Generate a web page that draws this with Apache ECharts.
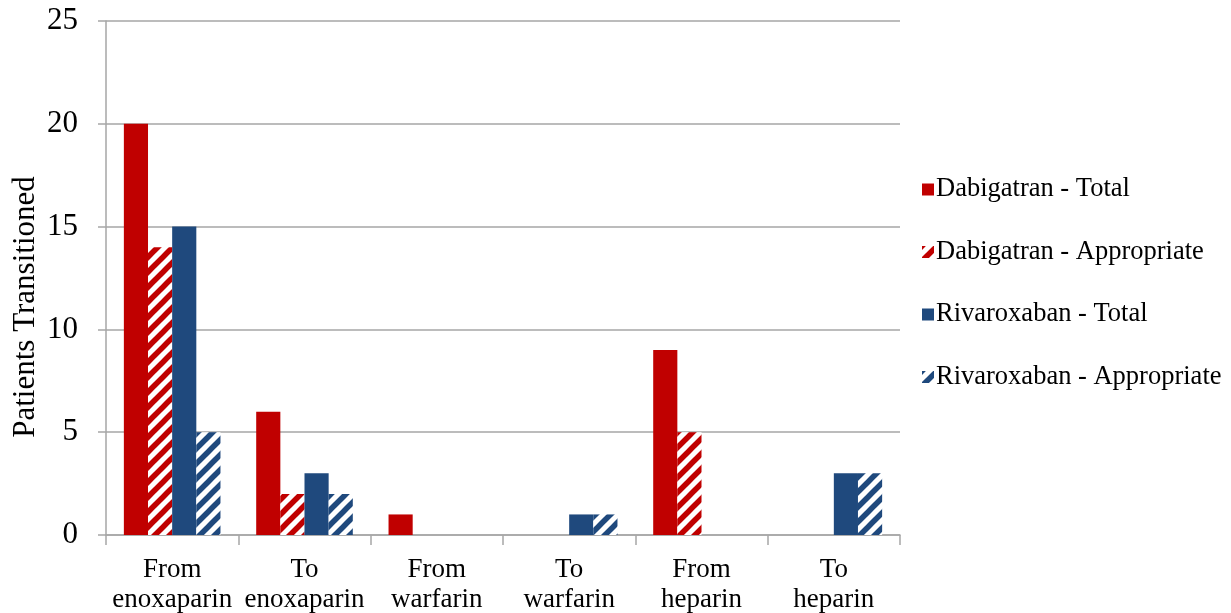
<!DOCTYPE html>
<html>
<head>
<meta charset="utf-8">
<script src="https://cdn.jsdelivr.net/npm/echarts@6/dist/echarts.min.js"></script>
<style>
  html, body { margin: 0; padding: 0; background: #fff; }
  #chart { width: 1231px; height: 613px; }
</style>
</head>
<body>
<div id="chart"></div>
<script>
// Transition categories (two-line labels)
const categories = [
  'From\nenoxaparin', 'To\nenoxaparin', 'From\nwarfarin',
  'To\nwarfarin', 'From\nheparin', 'To\nheparin'
];
const seriesNames = [
  'Dabigatran - Total', 'Dabigatran - Appropriate',
  'Rivaroxaban - Total', 'Rivaroxaban - Appropriate'
];
const dabigatranTotal = [20, 6, 1, 0, 9, 0];
const dabigatranAppropriate = [14, 2, 0, 0, 5, 0];
const rivaroxabanTotal = [15, 3, 0, 1, 0, 3];
const rivaroxabanAppropriate = [5, 2, 0, 1, 0, 3];
const yTicks = [0, 5, 10, 15, 20, 25];
const yTitle = 'Patients Transitioned';

const RED = '#C00000';
const BLUE = '#1F497D';
const FONT = '"Liberation Serif", "Times New Roman", serif';

// Diagonal "/" stripes on white for the "Appropriate" series
function stripePattern(color) {
  const s = 15;
  const c = document.createElement('canvas');
  c.width = s; c.height = s;
  const ctx = c.getContext('2d');
  ctx.fillStyle = '#fff';
  ctx.fillRect(0, 0, s, s);
  ctx.strokeStyle = color;
  ctx.lineWidth = 5.5;
  ctx.lineCap = 'square';
  for (const off of [-s, 0, s]) {
    ctx.beginPath();
    ctx.moveTo(off, s);
    ctx.lineTo(off + s, 0);
    ctx.stroke();
  }
  return { image: c, repeat: 'repeat' };
}

const chart = echarts.init(document.getElementById('chart'), null, { renderer: 'canvas' });

const values = [dabigatranTotal, dabigatranAppropriate, rivaroxabanTotal, rivaroxabanAppropriate];
const fills = [RED, stripePattern(RED), BLUE, stripePattern(BLUE)];

chart.setOption({
  animation: false,
  backgroundColor: '#fff',
  textStyle: { fontFamily: FONT },
  grid: {
    left: 106, right: 331, top: 21, bottom: 78,
    containLabel: false, outerBoundsMode: 'none'
  },
  legend: {
    orient: 'vertical',
    left: 917,
    top: 171,
    itemWidth: 12,
    itemHeight: 12,
    itemGap: 35.5,
    icon: 'rect',
    textStyle: { fontFamily: FONT, fontSize: 26.5, color: '#000', padding: [0, 0, 0, -3] },
    data: seriesNames
  },
  graphic: [{
    type: 'text',
    x: 26,
    y: 307,
    rotation: Math.PI / 2,
    style: {
      text: yTitle,
      fontFamily: FONT,
      fontSize: 31,
      fill: '#000',
      align: 'center',
      verticalAlign: 'middle'
    }
  }],
  xAxis: {
    type: 'category',
    data: categories,
    axisLine: { show: true, lineStyle: { color: '#A6A6A6', width: 1.5 } },
    axisTick: { show: true, length: 10, lineStyle: { color: '#A6A6A6', width: 1.5 } },
    axisLabel: {
      fontFamily: FONT, fontSize: 27, color: '#000',
      lineHeight: 30, margin: 20, interval: 0
    }
  },
  yAxis: {
    type: 'value',
    min: 0, max: 25, interval: 5,
    axisLine: { show: true, lineStyle: { color: '#A6A6A6', width: 1.5 } },
    axisTick: { show: true, length: 8, lineStyle: { color: '#A6A6A6', width: 1.5 } },
    splitLine: { show: true, lineStyle: { color: '#A6A6A6', width: 1.5 } },
    axisLabel: {
      fontFamily: FONT, fontSize: 31, color: '#000', margin: 28,
      formatter: v => yTicks.includes(v) ? String(v) : ''
    }
  },
  series: seriesNames.map((name, i) => ({
    name,
    type: 'bar',
    data: values[i],
    barGap: '0%',
    barCategoryGap: '27%',
    itemStyle: { color: fills[i] }
  }))
});
</script>
</body>
</html>
